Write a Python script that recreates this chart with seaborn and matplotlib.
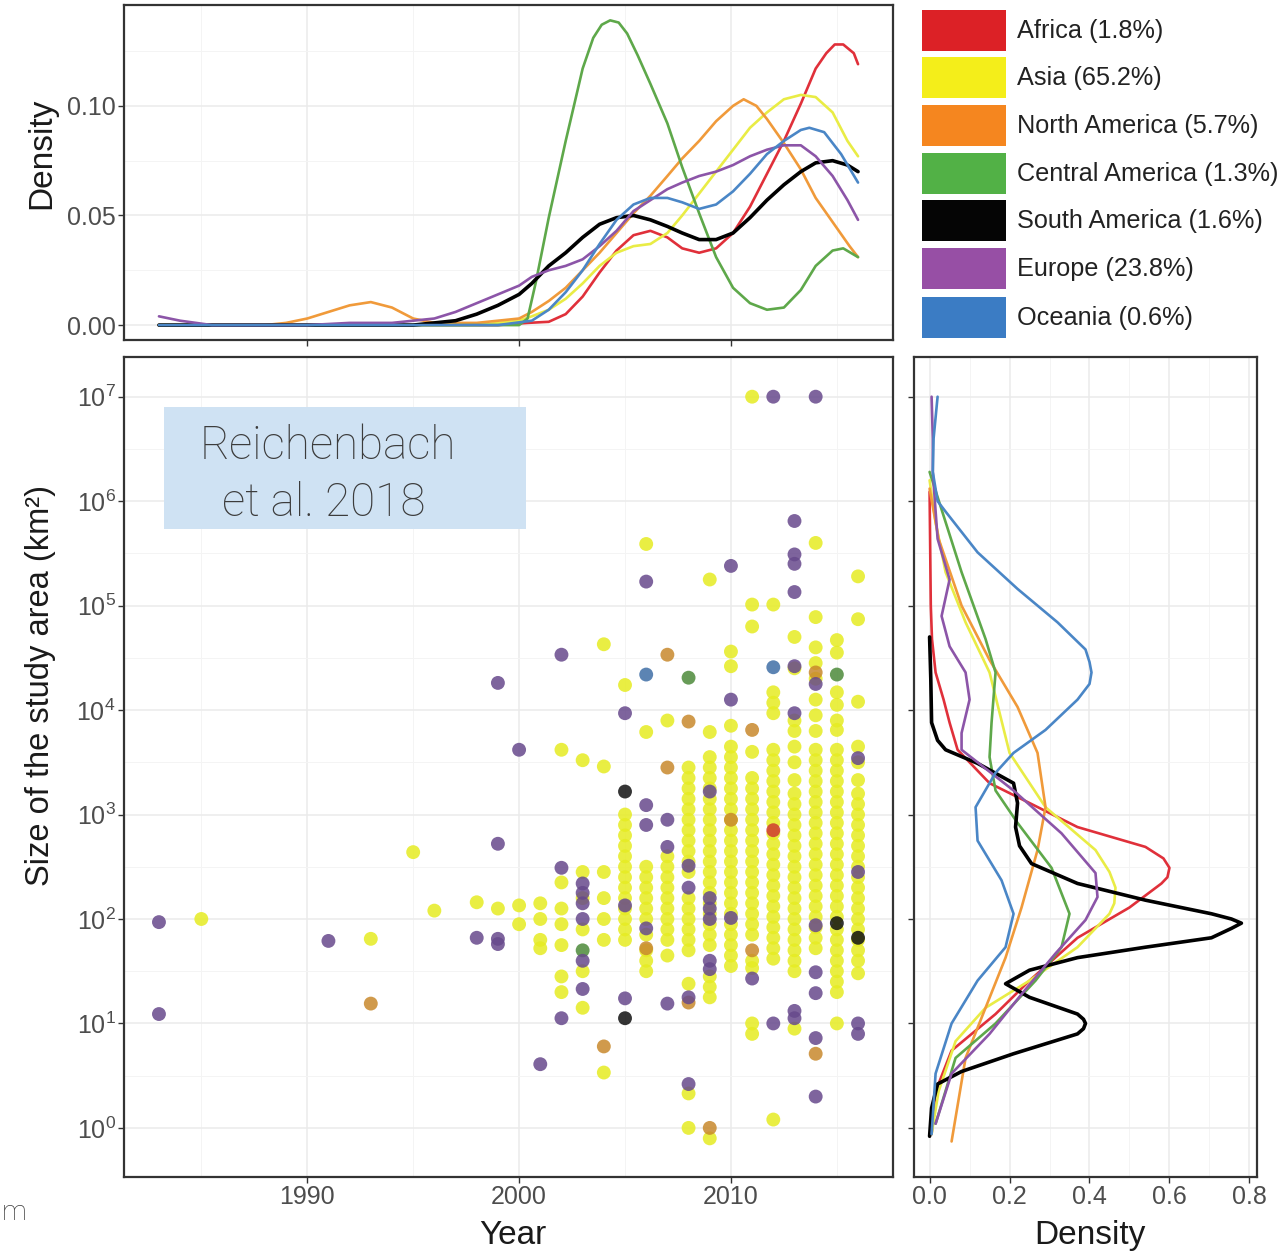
import numpy as np
import pandas as pd
import matplotlib
matplotlib.use("Agg")
import matplotlib.pyplot as plt
import seaborn as sns
from matplotlib.patches import Rectangle
from matplotlib.ticker import FixedLocator, FixedFormatter, NullFormatter

sns.set_theme(style="white")
plt.rcParams["font.family"] = ["Liberation Sans", "DejaVu Sans"]
plt.rcParams["mathtext.fontset"] = "custom"
plt.rcParams["mathtext.rm"] = "Liberation Sans"
plt.rcParams["mathtext.it"] = "Liberation Sans"

W, H = 1284, 1257

# ---------------------------------------------------------------- categories
regions = ["Africa", "Asia", "North America", "Central America",
           "South America", "Europe", "Oceania"]
region_shares = ["1.8%", "65.2%", "5.7%", "1.3%", "1.6%", "23.8%", "0.6%"]
legend_colors = ["#dc2126", "#f4ee1a", "#f5861f", "#52b146",
                 "#050505", "#974fa5", "#3b7cc4"]
line_colors = ["#e0303a", "#e9ec45", "#f09a3a", "#5ea84a",
               "#000000", "#8c55a8", "#4a86c6"]
point_colors = ["#cf3a30", "#e6ec22", "#c8892c", "#4c8a3a",
                "#111111", "#67498c", "#3f6fa6"]

# ---------------------------------------------------------------- study points
# year columns and log10(study area, km2) per column
asia_years = [1985, 1993, 1995, 1996, 1998, 1999, 2000, 2001, 2002, 2003,
              2004, 2005, 2006, 2007, 2008, 2009, 2010, 2011, 2012, 2013,
              2014, 2015, 2016]
asia_log_area = [
    [2.00], [1.81], [2.64], [2.08], [2.16], [2.10], [2.13, 1.95],
    [2.15, 2.00, 1.80, 1.72],
    [3.62, 2.35, 2.10, 1.95, 1.75, 1.45, 1.30],
    [3.52, 2.45, 2.20, 1.90, 1.50, 1.15],
    [4.63, 3.46, 2.45, 2.20, 2.00, 1.80, 0.53],
    [4.24, 3.00, 2.90, 2.80, 2.70, 2.60, 2.50, 2.40, 2.30, 2.20, 2.10, 2.00,
     1.90, 1.80],
    [5.59, 3.79, 2.50, 2.40, 2.30, 2.20, 2.10, 2.00, 1.85, 1.70, 1.60, 1.50],
    [3.90, 2.60, 2.50, 2.40, 2.30, 2.20, 2.10, 2.00, 1.90, 1.80, 1.65],
    [3.45, 3.35, 3.25, 3.15, 3.05, 2.95, 2.85, 2.75, 2.65, 2.55, 2.45, 2.20,
     2.10, 2.00, 1.90, 1.80, 1.70, 1.38, 0.33, 0.00],
    [5.25, 3.79, 3.55, 3.45, 3.35, 3.25, 3.15, 3.05, 2.95, 2.85, 2.75, 2.65,
     2.55, 2.45, 2.35, 2.25, 2.15, 2.05, 1.95, 1.85, 1.75, 1.45, 1.35, 1.25,
     -0.10],
    [4.56, 4.42, 3.85, 3.65, 3.55, 3.45, 3.35, 3.25, 3.15, 3.05, 2.95, 2.85,
     2.75, 2.65, 2.55, 2.45, 2.35, 2.25, 2.15, 2.05, 1.95, 1.85, 1.75, 1.65,
     1.55],
    [7.00, 5.01, 4.80, 3.60, 3.35, 3.25, 3.15, 3.05, 2.95, 2.85, 2.75, 2.65,
     2.55, 2.45, 2.35, 2.25, 2.15, 2.05, 1.95, 1.85, 1.60, 1.53, 1.00, 0.90],
    [5.01, 4.17, 4.07, 3.97, 3.62, 3.52, 3.42, 3.32, 3.22, 3.12, 3.02, 2.92,
     2.82, 2.72, 2.62, 2.52, 2.42, 2.32, 2.22, 2.12, 2.02, 1.92, 1.82, 1.72,
     1.62, 0.08],
    [4.70, 4.40, 3.90, 3.80, 3.65, 3.50, 3.33, 3.20, 3.10, 3.00, 2.90, 2.80,
     2.70, 2.60, 2.50, 2.40, 2.30, 2.20, 2.10, 2.00, 1.90, 1.80, 1.70, 1.60,
     1.50, 0.95],
    [5.60, 4.89, 4.60, 4.45, 4.30, 4.10, 3.95, 3.80, 3.62, 3.52, 3.42, 3.32,
     3.22, 3.12, 3.02, 2.92, 2.82, 2.72, 2.62, 2.52, 2.42, 2.32, 2.22, 2.12,
     2.02, 1.92, 1.82, 1.72],
    [4.67, 4.55, 4.17, 4.05, 3.90, 3.81, 3.62, 3.52, 3.42, 3.32, 3.22, 3.12,
     3.02, 2.92, 2.82, 2.72, 2.62, 2.52, 2.42, 2.32, 2.22, 2.12, 2.02, 1.90,
     1.80, 1.70, 1.60, 1.50, 1.40, 1.30, 1.00],
    [5.28, 4.87, 4.08, 3.65, 3.50, 3.33, 3.20, 3.10, 3.00, 2.90, 2.80, 2.70,
     2.60, 2.50, 2.40, 2.30, 2.20, 2.10, 2.00, 1.90, 1.80, 1.70, 1.60, 1.48],
]

europe_years = [1983, 1991, 1998, 1999, 2000, 2001, 2002, 2003, 2005, 2006,
                2007, 2008, 2009, 2010, 2011, 2012, 2013, 2014, 2016]
europe_log_area = [
    [1.97, 1.09], [1.79], [1.82], [4.26, 2.72, 1.81, 1.76], [3.62], [0.61],
    [4.53, 2.49, 1.05], [2.34, 2.25, 2.15, 2.00, 1.60, 1.33],
    [3.97, 2.13, 1.24], [5.23, 3.09, 2.90, 1.91], [2.95, 2.69, 1.19],
    [2.51, 2.30, 1.25, 0.42], [3.22, 2.20, 2.10, 2.00, 1.60, 1.52],
    [5.38, 4.10, 2.01], [1.43], [7.00, 1.00],
    [5.81, 5.49, 5.40, 5.13, 4.42, 3.97, 1.12, 1.05],
    [7.00, 4.25, 1.94, 1.49, 1.29, 0.86, 0.30],
    [3.54, 2.45, 1.00, 0.90],
]

north_america_years = [1993, 2004, 2006, 2007, 2008, 2009, 2010, 2011, 2014]
north_america_log_area = [
    [1.19], [0.78], [1.72], [4.53, 3.45], [3.89, 1.20], [0.00], [2.95],
    [3.81, 1.70], [4.36, 0.71],
]

central_america_years = [2003, 2008, 2015]
central_america_log_area = [[1.70], [4.31], [4.34]]

south_america_years = [2005, 2015, 2016]
south_america_log_area = [[3.22, 1.05], [1.96], [1.82]]

oceania_years = [2006, 2012]
oceania_log_area = [[4.34], [4.41]]

africa_years = [2012]
africa_log_area = [[2.85]]

# ---------------------------------------------------------------- density by year
africa_t_year = [1983, 1999, 2000.4, 2001.4, 2002.2, 2003.0, 2003.8, 2004.6,
                 2005.4, 2006.2, 2007.0, 2007.7, 2008.5, 2009.3, 2010.1,
                 2010.9, 2011.7, 2012.5, 2013.3, 2014.0, 2014.5, 2014.9,
                 2015.3, 2015.8, 2016]
africa_t_dens = [0.0, 0.0, 0.001, 0.0015, 0.005, 0.013, 0.024, 0.034, 0.041,
                 0.043, 0.040, 0.035, 0.033, 0.035, 0.042, 0.054, 0.069,
                 0.084, 0.101, 0.117, 0.124, 0.128, 0.128, 0.124, 0.119]

asia_t_year = [1983, 1998, 2000.0, 2000.6, 2001.4, 2002.2, 2003.0, 2003.8,
               2004.6, 2005.4, 2006.2, 2007.0, 2007.7, 2008.5, 2009.3,
               2010.1, 2010.9, 2011.7, 2012.5, 2013.3, 2014.0, 2014.8,
               2015.5, 2016]
asia_t_dens = [0.0, 0.0, 0.002, 0.004, 0.007, 0.012, 0.019, 0.027, 0.033,
               0.036, 0.037, 0.042, 0.050, 0.060, 0.070, 0.080, 0.090, 0.097,
               0.103, 0.105, 0.104, 0.097, 0.084, 0.077]

north_america_t_year = [1983, 1988, 1989, 1990, 1991, 1992, 1993, 1994, 1995,
                        1996, 1998, 1999, 2000.0, 2000.6, 2001.4, 2002.2,
                        2003.0, 2003.8, 2004.6, 2005.4, 2006.2, 2007.0,
                        2007.7, 2008.5, 2009.3, 2010.1, 2010.6, 2011.2,
                        2011.7, 2012.5, 2013.3, 2014.0, 2014.8, 2015.6, 2016]
north_america_t_dens = [0.0, 0.0, 0.001, 0.003, 0.006, 0.009, 0.0105, 0.008,
                        0.003, 0.001, 0.001, 0.002, 0.003, 0.006, 0.011,
                        0.017, 0.025, 0.033, 0.042, 0.051, 0.059, 0.068,
                        0.076, 0.084, 0.093, 0.100, 0.103, 0.100, 0.094,
                        0.083, 0.071, 0.058, 0.047, 0.036, 0.031]

central_america_t_year = [1983, 1998, 2000.0, 2000.4, 2000.8, 2001.4, 2002.2,
                          2003.0, 2003.5, 2003.9, 2004.3, 2004.7, 2005.1,
                          2005.6, 2006.2, 2007.0, 2007.7, 2008.5, 2009.3,
                          2010.1, 2010.9, 2011.7, 2012.5, 2013.3, 2014.0,
                          2014.8, 2015.3, 2016]
central_america_t_dens = [0.0, 0.0, 0.0, 0.003, 0.020, 0.049, 0.084, 0.117,
                          0.131, 0.137, 0.139, 0.138, 0.133, 0.123, 0.110,
                          0.092, 0.072, 0.051, 0.031, 0.017, 0.010, 0.007,
                          0.008, 0.016, 0.027, 0.034, 0.035, 0.031]

south_america_t_year = [1983, 1995, 1997, 1998, 1999, 2000.0, 2000.6, 2001.4,
                        2002.2, 2003.0, 2003.8, 2004.6, 2005.4, 2006.2,
                        2007.0, 2007.7, 2008.5, 2009.3, 2010.1, 2010.9,
                        2011.7, 2012.5, 2013.3, 2014.0, 2014.8, 2015.5, 2016]
south_america_t_dens = [0.0, 0.0, 0.002, 0.005, 0.009, 0.014, 0.019, 0.027,
                        0.033, 0.040, 0.046, 0.049, 0.050, 0.048, 0.045,
                        0.042, 0.039, 0.039, 0.042, 0.049, 0.057, 0.064,
                        0.070, 0.074, 0.075, 0.073, 0.070]

europe_t_year = [1983, 1984, 1985.5, 1990, 1992, 1994, 1996, 1997, 1998,
                 1999, 2000.0, 2000.6, 2001.4, 2002.2, 2003.0, 2003.8,
                 2004.6, 2005.4, 2006.2, 2007.0, 2007.7, 2008.5, 2009.3,
                 2010.1, 2010.9, 2011.7, 2012.5, 2013.3, 2014.0, 2014.8,
                 2015.5, 2016]
europe_t_dens = [0.004, 0.002, 0.0, 0.0, 0.001, 0.001, 0.003, 0.006, 0.010,
                 0.014, 0.018, 0.022, 0.025, 0.027, 0.030, 0.036, 0.043,
                 0.052, 0.057, 0.062, 0.065, 0.068, 0.070, 0.073, 0.077,
                 0.080, 0.082, 0.082, 0.077, 0.068, 0.057, 0.048]

oceania_t_year = [1983, 1999, 2000.6, 2001.4, 2002.2, 2003.0, 2003.8, 2004.6,
                  2005.4, 2006.2, 2007.0, 2007.7, 2008.5, 2009.3, 2010.1,
                  2010.9, 2011.7, 2012.5, 2013.3, 2013.7, 2014.4, 2015.2, 2016]
oceania_t_dens = [0.0, 0.0, 0.002, 0.007, 0.015, 0.025, 0.037, 0.048, 0.055,
                  0.058, 0.058, 0.056, 0.053, 0.055, 0.061, 0.069, 0.078,
                  0.084, 0.089, 0.090, 0.088, 0.078, 0.065]

# ---------------------------------------------------------------- density by area
africa_r_log_area = [6.09, 5.00, 4.68, 4.36, 4.10, 3.88, 3.62, 3.30, 3.11,
                     2.88, 2.69, 2.58, 2.49, 2.40, 2.34, 2.11, 1.82, 1.41,
                     1.09, 0.74, 0.35, -0.06]
africa_r_dens = [0.0, 0.003, 0.006, 0.015, 0.035, 0.05, 0.07, 0.15, 0.25,
                 0.37, 0.54, 0.585, 0.60, 0.595, 0.58, 0.50, 0.37, 0.25,
                 0.165, 0.055, 0.015, 0.005]

asia_r_log_area = [6.20, 5.80, 5.32, 4.84, 4.36, 3.59, 3.07, 2.66, 2.45, 2.30,
                   2.15, 2.05, 1.73, 1.41, 1.15, 0.83, 0.35, -0.06]
asia_r_dens = [0.0, 0.015, 0.04, 0.09, 0.15, 0.20, 0.29, 0.415, 0.45, 0.465,
               0.462, 0.45, 0.37, 0.25, 0.14, 0.065, 0.0225, 0.005]

north_america_r_log_area = [6.12, 5.64, 5.00, 4.48, 4.03, 3.59, 3.07, 2.66,
                            2.11, 1.63, 1.15, 0.67, -0.13]
north_america_r_dens = [0.0, 0.0225, 0.08, 0.15, 0.22, 0.27, 0.29, 0.27, 0.23,
                        0.19, 0.14, 0.09, 0.055]

central_america_r_log_area = [6.28, 5.80, 5.32, 4.68, 4.36, 3.88, 3.55, 3.23,
                              2.92, 2.49, 2.05, 1.73, 1.41, 1.00, 0.67, 0.04]
central_america_r_dens = [0.0, 0.04, 0.08, 0.14, 0.165, 0.155, 0.15, 0.165,
                          0.22, 0.305, 0.35, 0.33, 0.265, 0.165, 0.065, 0.015]

south_america_r_log_area = [4.70, 4.30, 3.88, 3.71, 3.62, 3.49, 3.30, 3.11,
                            2.88, 2.70, 2.53, 2.34, 2.18, 2.05, 2.00, 1.96,
                            1.91, 1.82, 1.73, 1.63, 1.51, 1.38, 1.25, 1.09,
                            1.04, 1.00, 0.95, 0.90, 0.71, 0.54, 0.42, 0.19,
                            -0.08]
south_america_r_dens = [0.0, 0.003, 0.005, 0.02, 0.04, 0.12, 0.21, 0.22,
                        0.215, 0.225, 0.255, 0.37, 0.54, 0.705, 0.755, 0.78,
                        0.755, 0.705, 0.54, 0.37, 0.25, 0.19, 0.25, 0.37,
                        0.385, 0.39, 0.385, 0.37, 0.21, 0.08, 0.02, 0.005,
                        0.0]

europe_r_log_area = [7.00, 6.60, 6.28, 5.64, 5.25, 4.90, 4.61, 4.36, 4.10,
                     3.78, 3.62, 3.23, 2.82, 2.44, 2.21, 1.99, 1.67, 1.28,
                     0.90, 0.52, 0.04]
europe_r_dens = [0.005, 0.008, 0.008, 0.02, 0.05, 0.03, 0.05, 0.09, 0.10,
                 0.08, 0.08, 0.21, 0.33, 0.415, 0.42, 0.39, 0.315, 0.23,
                 0.15, 0.055, 0.015]

oceania_r_log_area = [7.00, 6.60, 6.28, 6.00, 5.90, 5.51, 5.16, 4.84, 4.58,
                      4.46, 4.36, 4.25, 4.10, 3.81, 3.59, 3.40, 3.07, 2.75,
                      2.37, 2.05, 1.73, 1.41, 1.00, 0.52, -0.06]
oceania_r_dens = [0.02, 0.01, 0.008, 0.02, 0.04, 0.12, 0.22, 0.32, 0.39,
                  0.40, 0.405, 0.40, 0.37, 0.29, 0.21, 0.165, 0.115, 0.12,
                  0.18, 0.21, 0.19, 0.12, 0.055, 0.015, 0.005]

# ---------------------------------------------------------------- tables
point_sets = [
    ("Asia", asia_years, asia_log_area),
    ("Africa", africa_years, africa_log_area),
    ("North America", north_america_years, north_america_log_area),
    ("Central America", central_america_years, central_america_log_area),
    ("South America", south_america_years, south_america_log_area),
    ("Europe", europe_years, europe_log_area),
    ("Oceania", oceania_years, oceania_log_area),
]
rows = []
for name, yrs, vals in point_sets:
    for yr, col in zip(yrs, vals):
        for v in col:
            rows.append((name, yr, 10.0 ** v))
points = pd.DataFrame(rows, columns=["region", "year", "area"])

top_sets = {
    "Africa": (africa_t_year, africa_t_dens),
    "Asia": (asia_t_year, asia_t_dens),
    "North America": (north_america_t_year, north_america_t_dens),
    "Central America": (central_america_t_year, central_america_t_dens),
    "South America": (south_america_t_year, south_america_t_dens),
    "Europe": (europe_t_year, europe_t_dens),
    "Oceania": (oceania_t_year, oceania_t_dens),
}
right_sets = {
    "Africa": (africa_r_log_area, africa_r_dens),
    "Asia": (asia_r_log_area, asia_r_dens),
    "North America": (north_america_r_log_area, north_america_r_dens),
    "Central America": (central_america_r_log_area, central_america_r_dens),
    "South America": (south_america_r_log_area, south_america_r_dens),
    "Europe": (europe_r_log_area, europe_r_dens),
    "Oceania": (oceania_r_log_area, oceania_r_dens),
}

# ---------------------------------------------------------------- figure
fig = plt.figure(figsize=(W / 100, H / 100), dpi=100)
fig.patch.set_facecolor("white")


def px_axes(left, top, right, bottom):
    return fig.add_axes([left / W, 1 - bottom / H, (right - left) / W,
                         (bottom - top) / H])


ax_top = px_axes(124, 5, 893, 340)
ax_main = px_axes(124, 357, 893, 1177)
ax_right = px_axes(914, 357, 1257, 1177)

TICK_COLOR = "#4d4d4d"
SPINE_COLOR = "#333333"
GRID_MAJOR = "#ebebeb"
GRID_MINOR = "#f4f4f4"
TITLE_SIZE = 24
TICK_SIZE = 18


def style_axes(ax):
    ax.set_facecolor("white")
    for s in ax.spines.values():
        s.set_color(SPINE_COLOR)
        s.set_linewidth(1.6)
    ax.tick_params(axis="both", which="major", length=4, width=1.0,
                   color=SPINE_COLOR, labelcolor=TICK_COLOR,
                   labelsize=TICK_SIZE, pad=2, direction="out",
                   bottom=True, left=True)
    ax.tick_params(axis="both", which="minor", length=0)
    ax.grid(True, which="major", color=GRID_MAJOR, linewidth=1.1, zorder=0)
    ax.grid(True, which="minor", color=GRID_MINOR, linewidth=0.7, zorder=0)
    ax.set_axisbelow(True)


x_lo, x_hi = 1981.35, 2017.65
y_lo, y_hi = 10 ** -0.47, 10 ** 7.38
year_ticks = [1990, 2000, 2010]
year_minor = [1985, 1995, 2005, 2015]
decades = [10.0 ** k for k in range(8)]
decade_labels = [r"$10^{%d}$" % k for k in range(8)]
half_decades = [10.0 ** (k + 0.5) for k in range(-1, 8)]

# top marginal: density over publication year
for name, col in zip(regions, line_colors):
    yrs, dens = top_sets[name]
    sns.lineplot(x=yrs, y=dens, ax=ax_top, color=col,
                 linewidth=2.6 if name == "South America" else 1.9,
                 estimator=None, sort=True)
ax_top.set_xlim(x_lo, x_hi)
ax_top.set_ylim(-0.0068, 0.146)
ax_top.xaxis.set_major_locator(FixedLocator(year_ticks))
ax_top.xaxis.set_minor_locator(FixedLocator(year_minor))
ax_top.xaxis.set_major_formatter(NullFormatter())
ax_top.yaxis.set_major_locator(FixedLocator([0.0, 0.05, 0.10]))
ax_top.yaxis.set_major_formatter(FixedFormatter(["0.00", "0.05", "0.10"]))
ax_top.yaxis.set_minor_locator(FixedLocator([0.025, 0.075, 0.125]))
style_axes(ax_top)
ax_top.set_xlabel("")
ax_top.set_ylabel("Density", fontsize=TITLE_SIZE, color="#1a1a1a")
ax_top.yaxis.set_label_coords(-0.107, 0.558)
ax_top.yaxis.label.set_va("center")

# main scatter: study area against year
sns.scatterplot(data=points, x="year", y="area", hue="region",
                hue_order=regions, palette=point_colors, s=100, alpha=0.85,
                linewidth=0, legend=False, ax=ax_main, zorder=3)
ax_main.set_yscale("log")
ax_main.set_xlim(x_lo, x_hi)
ax_main.set_ylim(y_lo, y_hi)
ax_main.xaxis.set_major_locator(FixedLocator(year_ticks))
ax_main.xaxis.set_minor_locator(FixedLocator(year_minor))
ax_main.yaxis.set_major_locator(FixedLocator(decades))
ax_main.yaxis.set_major_formatter(FixedFormatter(decade_labels))
ax_main.yaxis.set_minor_locator(FixedLocator(half_decades))
style_axes(ax_main)
ax_main.set_xlabel("Year", fontsize=TITLE_SIZE, color="#1a1a1a")
ax_main.xaxis.set_label_coords(0.505, -0.071)
ax_main.xaxis.label.set_va("center")
ax_main.set_ylabel("Size of the study area (km²)", fontsize=TITLE_SIZE - 0.5,
                   color="#1a1a1a")
ax_main.yaxis.set_label_coords(-0.109, 0.599)
ax_main.yaxis.label.set_va("center")

# right marginal: density over study area
ax_right.set_yscale("log")
for name, col in zip(regions, line_colors):
    la, dens = right_sets[name]
    sns.lineplot(x=dens, y=[10.0 ** v for v in la], ax=ax_right, color=col,
                 linewidth=2.6 if name == "South America" else 1.9,
                 estimator=None, sort=False)
ax_right.set_xlim(-0.039, 0.819)
ax_right.set_ylim(y_lo, y_hi)
ax_right.xaxis.set_major_locator(FixedLocator([0.0, 0.2, 0.4, 0.6, 0.8]))
ax_right.xaxis.set_major_formatter(
    FixedFormatter(["0.0", "0.2", "0.4", "0.6", "0.8"]))
ax_right.xaxis.set_minor_locator(FixedLocator([0.1, 0.3, 0.5, 0.7]))
ax_right.yaxis.set_major_locator(FixedLocator(decades))
ax_right.yaxis.set_major_formatter(NullFormatter())
ax_right.yaxis.set_minor_locator(FixedLocator(half_decades))
style_axes(ax_right)
ax_right.set_ylabel("")
ax_right.set_xlabel("Density", fontsize=TITLE_SIZE, color="#1a1a1a")
ax_right.xaxis.set_label_coords(0.513, -0.071)
ax_right.xaxis.label.set_va("center")

# overlay in pixel units: legend, citation box and caption glyph
ov = fig.add_axes([0, 0, 1, 1], zorder=10)
ov.set_xlim(0, W)
ov.set_ylim(H, 0)
ov.axis("off")
ov.patch.set_alpha(0)

sw_tops = [10, 57, 105, 153, 200, 248, 297]
for top, name, share, col in zip(sw_tops, regions, region_shares,
                                 legend_colors):
    ov.add_patch(Rectangle((922, top), 84, 41, facecolor=col,
                           edgecolor="none"))
    ov.text(1017, top + 21, f"{name} ({share})", fontsize=18.2,
            color="#222222", va="center", ha="left")

ov.add_patch(Rectangle((164, 407), 362, 122, facecolor="#cfe2f3",
                       edgecolor="none"))
light_family = ["Roboto", "Lato", "DejaVu Sans"]
ov.text(328, 446, "Reichenbach", fontsize=33, color="#3c3c3c",
        ha="center", va="center", family=light_family, fontweight="light")
ov.text(324, 503, "et al. 2018", fontsize=33, color="#3c3c3c",
        ha="center", va="center", family=light_family, fontweight="light")
ov.text(2, 1212, "m", fontsize=20, color="#404040", ha="left",
        va="center", family=light_family, fontweight="light")

fig.savefig("out.png", dpi=100, facecolor="white")
